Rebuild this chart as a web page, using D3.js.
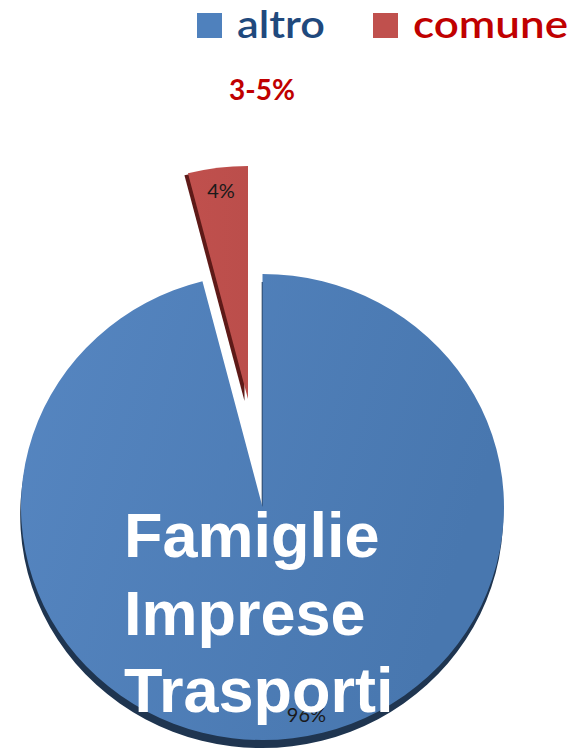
<!DOCTYPE html>
<html>
<head>
<meta charset="utf-8">
<script src="https://cdn.jsdelivr.net/npm/d3@7"></script>
<style>
  html, body { margin: 0; padding: 0; background: #fff; }
  svg { display: block; }
</style>
</head>
<body>
<svg id="chart" width="575" height="751"></svg>
<script>
const categories = ["altro", "comune"];
const values = [96, 4];
const valueLabels = ["96%", "4%"];
const rangeLabel = "3-5%";
const overlayLines = ["Famiglie", "Imprese", "Trasporti"];

const fillColors = ["#4F81BD", "#C0504D"];
const sideColors = ["#1F3550", "#5E1A18"];
const legendTextColors = ["#1F497D", "#C00000"];

const svg = d3.select("#chart");
const defs = svg.append("defs");

const gB = defs.append("linearGradient").attr("id", "gBlue")
  .attr("x1", "0").attr("y1", "0").attr("x2", "1").attr("y2", "0.3");
gB.append("stop").attr("offset", "0").attr("stop-color", "#5686C1");
gB.append("stop").attr("offset", "1").attr("stop-color", "#4877AF");
const gR = defs.append("linearGradient").attr("id", "gRed")
  .attr("x1", "0").attr("y1", "0").attr("x2", "1").attr("y2", "0");
gR.append("stop").attr("offset", "0").attr("stop-color", "#C0504D");
gR.append("stop").attr("offset", "1").attr("stop-color", "#BB4E4B");
const gradIds = ["url(#gBlue)", "url(#gRed)"];

const rx = 241.5, ry = 233;
const pie = d3.pie().sort(null).value(d => d)(values);
const arc = d3.arc().innerRadius(0).outerRadius(rx);
const labelArc = d3.arc().innerRadius(215).outerRadius(215);

// slice centers (explosion)
const centers = [[262.5, 507], [248, 399]];
const shadowOff = [[-0.8, 8], [-3.5, 2]];
const labelShift = [[17, 4], [0, 0]];

pie.forEach((p, i) => {
  const [cx, cy] = centers[i];
  const g = svg.append("g");
  g.append("path")
    .attr("transform", `translate(${cx + shadowOff[i][0]},${cy + shadowOff[i][1]}) scale(1,${ry / rx})`)
    .attr("d", arc(p))
    .attr("fill", sideColors[i]);
  g.append("path")
    .attr("transform", `translate(${cx},${cy}) scale(1,${ry / rx})`)
    .attr("d", arc(p))
    .attr("fill", gradIds[i]);
});

// value labels
pie.forEach((p, i) => {
  const [cx, cy] = centers[i];
  const c = labelArc.centroid(p);
  svg.append("text")
    .attr("x", cx + c[0] + labelShift[i][0])
    .attr("y", cy + c[1] * (ry / rx) + labelShift[i][1])
    .attr("text-anchor", "middle")
    .attr("dominant-baseline", "middle")
    .attr("font-family", "Lato, 'Open Sans', sans-serif")
    .attr("font-size", 20)
    .attr("fill", "#1a1a1a")
    .text(valueLabels[i]);
});

// legend
const legendX = [197, 373];
const legendW = [88, 155];
const legend = svg.append("g");
categories.forEach((c, i) => {
  legend.append("rect")
    .attr("x", legendX[i]).attr("y", 13)
    .attr("width", 25).attr("height", 25)
    .attr("fill", fillColors[i]);
  legend.append("text")
    .attr("x", legendX[i] + 40).attr("y", 38)
    .attr("font-family", "Lato, 'Open Sans', sans-serif")
    .attr("font-weight", 600)
    .attr("font-size", 38)
    .attr("textLength", legendW[i])
    .attr("lengthAdjust", "spacingAndGlyphs")
    .attr("fill", legendTextColors[i])
    .text(c);
});

// range label
svg.append("text")
  .attr("x", 262).attr("y", 100)
  .attr("text-anchor", "middle")
  .attr("font-family", "Lato, 'Open Sans', sans-serif")
  .attr("font-weight", "bold")
  .attr("font-size", 28)
  .attr("fill", "#C00000")
  .text(rangeLabel);

// overlay text
overlayLines.forEach((t, i) => {
  svg.append("text")
    .attr("x", 124).attr("y", 557 + i * 77.5)
    .attr("font-family", "'Liberation Sans', Arial, sans-serif")
    .attr("font-weight", "bold")
    .attr("font-size", 63)
    .attr("fill", "#ffffff")
    .text(t);
});
</script>
</body>
</html>
